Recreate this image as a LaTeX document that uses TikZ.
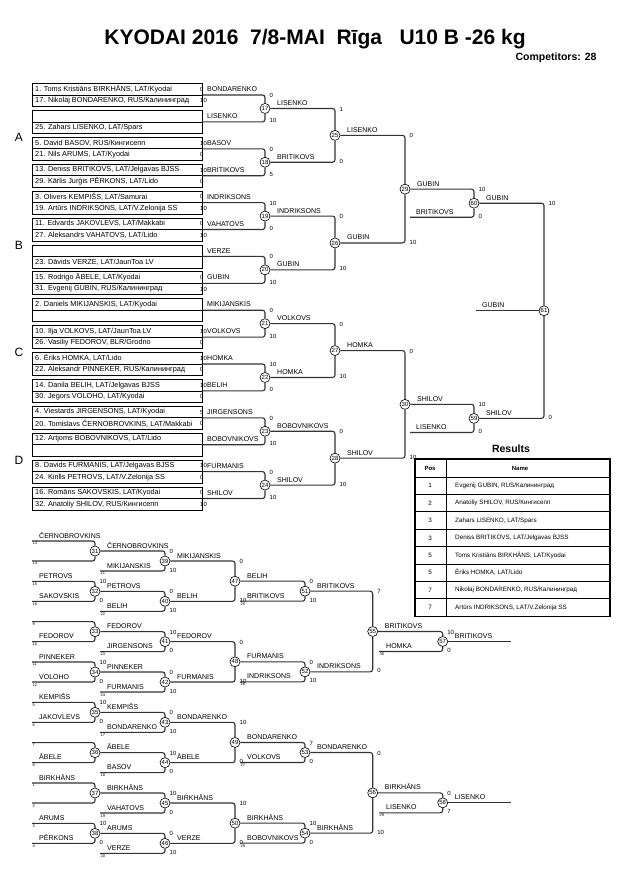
\documentclass[tikz,border=0pt]{standalone}
\usepackage{fontspec}
\setmainfont{Liberation Sans}
\newcommand\kyPair[6]{%
  \pgfmathsetmacro\kyT{83.5+26.9*#1}%
  \draw[boxln] (32,\kyT) rectangle (202,\kyT+23);
  \draw[boxln] (32,\kyT+11.5) -- (202,\kyT+11.5);
  \node[entry] (e#1a) at (35,\kyT+5.75) {#2};
  \node[entry] (e#1b) at (35,\kyT+17.25) {#3};
  \node[sc] (e#1sa) at (200,\kyT+5.75) {#4};
  \node[sc] (e#1sb) at (200,\kyT+17.25) {#5};
  \node[lblc] (e#1w) at (207,\kyT+5.75) {#6};
  \coordinate (q#1) at (202,\kyT+11.5);
}
\newcommand\kyF[8]{%
  \node[fight] (f#1) at (#2,#3) {#1};
  \node[sc] (f#1su) at (#2+4.5,#5+0.5) {#4};
  \node[sc] (f#1sl) at (#2+4.5,#7-1) {#6};
  \node[lbl] (f#1w) at (#2+12,#3-3) {#8};
}
\newcommand\kyArm[5]{%
  \coordinate (#1) at (#2,#3);
  \node[lbl] (#1t) at (#2+7,#3-3) {#4};
  \node[tinyn] (#1n) at (#2+0.5,#3+1) {#5};
}
\begin{document}
\begin{tikzpicture}[x=1pt,y=-1pt,
  entry/.style={font=\fontsize{7.3}{8}\selectfont, anchor=west, inner sep=0pt},
  lbl/.style={font=\fontsize{7}{8}\selectfont, anchor=base west, inner sep=0pt},
  lblc/.style={font=\fontsize{7}{8}\selectfont, anchor=west, inner sep=0pt},
  sc/.style={font=\fontsize{6}{7}\selectfont, anchor=west, inner sep=0pt},
  tinyn/.style={font=\fontsize{4}{4.5}\selectfont, anchor=north west, inner sep=0pt},
  fight/.style={circle, draw=black, line width=0.6pt, fill=white, minimum size=10pt, inner sep=0pt, font=\fontsize{6}{6}\selectfont},
  conn/.style={draw=black!80, line width=1.1pt, rounded corners=2.5pt},
  boxln/.style={draw=black, line width=0.8pt},
  tab/.style={font=\fontsize{6.3}{7}\selectfont, inner sep=0pt},
]
\useasboundingbox (0,0) rectangle (630,891);
\fill[white] (0,0) rectangle (630,891);

% title
\node[font=\bfseries\fontsize{21}{25}\selectfont] (title) at (315,39) {KYODAI 2016\ \ 7/8-MAI\ \ Rīga\ \ \ U10 B -26 kg};
\node[font=\bfseries\fontsize{10.5}{12}\selectfont, anchor=east] (comp) at (600,58) {Competitors: 28};

% group letters
\node[font=\fontsize{12}{14}\selectfont] (gA) at (19,137.5) {A};
\node[font=\fontsize{12}{14}\selectfont] (gB) at (19,245) {B};
\node[font=\fontsize{12}{14}\selectfont] (gC) at (19,352.5) {C};
\node[font=\fontsize{12}{14}\selectfont] (gD) at (19,460) {D};

% first round
\kyPair{0}{1. Toms Kristiāns BIRKHĀNS, LAT/Kyodai}{17. Nikolaj BONDARENKO, RUS/Калининград}{0}{10}{BONDARENKO}
\kyPair{1}{}{25. Zahars LISENKO, LAT/Spars}{}{}{LISENKO}
\kyPair{2}{5. David BASOV, RUS/Кингисепп}{21. Nils ARUMS, LAT/Kyodai}{10}{0}{BASOV}
\kyPair{3}{13. Deniss BRITIKOVS, LAT/Jelgavas BJSS}{29. Kārlis Jurģis PĒRKONS, LAT/Lido}{10}{0}{BRITIKOVS}
\kyPair{4}{3. Olivers KEMPIŠS, LAT/Samurai}{19. Artūrs INDRIKSONS, LAT/V.Zelonija SS}{0}{10}{INDRIKSONS}
\kyPair{5}{11. Edvards JAKOVLEVS, LAT/Makkabi}{27. Aleksandrs VAHATOVS, LAT/Lido}{0}{10}{VAHATOVS}
\kyPair{6}{}{23. Dāvids VERZE, LAT/JaunToa LV}{}{}{VERZE}
\kyPair{7}{15. Rodrigo ĀBELE, LAT/Kyodai}{31. Evgenij GUBIN, RUS/Калининград}{0}{10}{GUBIN}
\kyPair{8}{2. Daniels MIKIJANSKIS, LAT/Kyodai}{}{}{}{MIKIJANSKIS}
\kyPair{9}{10. Ilja VOLKOVS, LAT/JaunToa LV}{26. Vasiliy FEDOROV, BLR/Grodno}{10}{0}{VOLKOVS}
\kyPair{10}{6. Ēriks HOMKA, LAT/Lido}{22. Aleksandr PINNEKER, RUS/Калининград}{10}{0}{HOMKA}
\kyPair{11}{14. Danila BELIH, LAT/Jelgavas BJSS}{30. Jegors VOLOHO, LAT/Kyodai}{10}{0}{BELIH}
\kyPair{12}{4. Viestards JIRGENSONS, LAT/Kyodai}{20. Tomislavs ČERNOBROVKINS, LAT/Makkabi}{5}{0}{JIRGENSONS}
\kyPair{13}{12. Artjoms BOBOVNIKOVS, LAT/Lido}{}{}{}{BOBOVNIKOVS}
\kyPair{14}{8. Davids FURMANIS, LAT/Jelgavas BJSS}{24. Kirills PETROVS, LAT/V.Zelonija SS}{10}{0}{FURMANIS}
\kyPair{15}{16. Romāns SAKOVSKIS, LAT/Kyodai}{32. Anatoliy SHILOV, RUS/Кингисепп}{0}{10}{SHILOV}

% main bracket fights
\kyF{17}{265}{108.45}{0}{95}{10}{121.9}{LISENKO}
\kyF{18}{265}{162.25}{0}{148.8}{5}{175.7}{BRITIKOVS}
\kyF{19}{265}{216.05}{10}{202.6}{0}{229.5}{INDRIKSONS}
\kyF{20}{265}{269.85}{0}{256.4}{10}{283.3}{GUBIN}
\kyF{21}{265}{323.65}{0}{310.2}{10}{337.1}{VOLKOVS}
\kyF{22}{265}{377.45}{10}{364}{0}{390.9}{HOMKA}
\kyF{23}{265}{431.25}{0}{417.8}{10}{444.7}{BOBOVNIKOVS}
\kyF{24}{265}{485.05}{0}{471.6}{10}{498.5}{SHILOV}
\kyF{25}{335}{135.35}{1}{108.45}{0}{162.25}{LISENKO}
\kyF{26}{335}{242.95}{0}{216.05}{10}{269.85}{GUBIN}
\kyF{27}{335}{350.55}{0}{323.65}{10}{377.45}{HOMKA}
\kyF{28}{335}{458.15}{0}{431.25}{10}{485.05}{SHILOV}
\kyF{29}{405}{189.15}{0}{135.35}{10}{242.95}{GUBIN}
\kyF{30}{405}{404.35}{0}{350.55}{10}{458.15}{SHILOV}
\kyF{60}{474}{203.2}{10}{189.15}{0}{217.25}{GUBIN}
\kyF{59}{474}{418.4}{10}{404.35}{0}{432.45}{SHILOV}
\kyF{61}{544}{310.8}{10}{203.2}{0}{418.4}{}
\coordinate (h60) at (410,217.25);
\node[lbl] (h60t) at (416,214.25) {BRITIKOVS};
\coordinate (h59) at (410,432.45);
\node[lbl] (h59t) at (416,429.45) {LISENKO};
\coordinate (g61) at (476,310.8);
\node[lbl] (g61t) at (482,307.8) {GUBIN};

\foreach \a/\b in {q0/f17,q1/f17,q2/f18,q3/f18,q4/f19,q5/f19,q6/f20,q7/f20,
  q8/f21,q9/f21,q10/f22,q11/f22,q12/f23,q13/f23,q14/f24,q15/f24,
  f17/f25,f18/f25,f19/f26,f20/f26,f21/f27,f22/f27,f23/f28,f24/f28,
  f25/f29,f26/f29,f27/f30,f28/f30,f29/f60,h60/f60,f30/f59,h59/f59,
  f60/f61,f59/f61}
  \draw[conn] (\a) -| (\b);
\draw[conn] (g61) -- (f61);

% repechage arms
\kyArm{a31u}{32}{541}{ČERNOBROVKINS}{13}
\kyArm{a31l}{32}{561}{}{14}
\kyArm{a32u}{32}{581.33}{PETROVS}{15}
\kyArm{a32l}{32}{601.33}{SAKOVSKIS}{16}
\kyArm{a33u}{32}{621.67}{}{9}
\kyArm{a33l}{32}{641.67}{FEDOROV}{10}
\kyArm{a34u}{32}{662}{PINNEKER}{11}
\kyArm{a34l}{32}{682}{VOLOHO}{12}
\kyArm{a35u}{32}{702.33}{KEMPIŠS}{5}
\kyArm{a35l}{32}{722.33}{JAKOVLEVS}{6}
\kyArm{a36u}{32}{742.67}{}{7}
\kyArm{a36l}{32}{762.67}{ĀBELE}{8}
\kyArm{a37u}{32}{783}{BIRKHĀNS}{1}
\kyArm{a37l}{32}{803}{}{2}
\kyArm{a38u}{32}{823.33}{ARUMS}{3}
\kyArm{a38l}{32}{843.33}{PĒRKONS}{4}
\kyArm{a39}{100}{571}{MIKIJANSKIS}{21}
\kyArm{a40}{100}{611.33}{BELIH}{22}
\kyArm{a41}{100}{651.67}{JIRGENSONS}{23}
\kyArm{a42}{100}{692}{FURMANIS}{24}
\kyArm{a43}{100}{732.33}{BONDARENKO}{17}
\kyArm{a44}{100}{772.67}{BASOV}{18}
\kyArm{a45}{100}{813}{VAHATOVS}{19}
\kyArm{a46}{100}{853.33}{VERZE}{20}
\kyArm{a51}{240}{601.17}{BRITIKOVS}{25}
\kyArm{a52}{240}{681.83}{INDRIKSONS}{26}
\kyArm{a53}{240}{762.5}{VOLKOVS}{27}
\kyArm{a54}{240}{843.17}{BOBOVNIKOVS}{28}
\kyArm{a57}{379}{651.5}{HOMKA}{30}
\kyArm{a58}{379}{812.83}{LISENKO}{29}

% repechage fights
\kyF{31}{95}{551}{}{541}{}{561}{ČERNOBROVKINS}
\kyF{32}{95}{591.33}{10}{581.33}{0}{601.33}{PETROVS}
\kyF{33}{95}{631.67}{}{621.67}{}{641.67}{FEDOROV}
\kyF{34}{95}{672}{10}{662}{0}{682}{PINNEKER}
\kyF{35}{95}{712.33}{10}{702.33}{0}{722.33}{KEMPIŠS}
\kyF{36}{95}{752.67}{}{742.67}{}{762.67}{ĀBELE}
\kyF{37}{95}{793}{}{783}{}{803}{BIRKHĀNS}
\kyF{38}{95}{833.33}{10}{823.33}{0}{843.33}{ARUMS}
\kyF{39}{165}{561}{0}{551}{10}{571}{MIKIJANSKIS}
\kyF{40}{165}{601.33}{0}{591.33}{10}{611.33}{BELIH}
\kyF{41}{165}{641.67}{10}{631.67}{0}{651.67}{FEDOROV}
\kyF{42}{165}{682}{0}{672}{10}{692}{FURMANIS}
\kyF{43}{165}{722.33}{0}{712.33}{10}{732.33}{BONDARENKO}
\kyF{44}{165}{762.67}{10}{752.67}{0}{772.67}{ĀBELE}
\kyF{45}{165}{803}{10}{793}{0}{813}{BIRKHĀNS}
\kyF{46}{165}{843.33}{0}{833.33}{10}{853.33}{VERZE}
\kyF{47}{235}{581.17}{0}{561}{10}{601.33}{BELIH}
\kyF{48}{235}{661.83}{0}{641.67}{10}{682}{FURMANIS}
\kyF{49}{235}{742.5}{10}{722.33}{0}{762.67}{BONDARENKO}
\kyF{50}{235}{823.17}{10}{803}{0}{843.33}{BIRKHĀNS}
\kyF{51}{305}{591.17}{0}{581.17}{10}{601.17}{BRITIKOVS}
\kyF{52}{305}{671.83}{0}{661.83}{10}{681.83}{INDRIKSONS}
\kyF{53}{305}{752.5}{7}{742.5}{0}{762.5}{BONDARENKO}
\kyF{54}{305}{833.17}{10}{823.17}{0}{843.17}{BIRKHĀNS}
\kyF{55}{372.7}{631.5}{7}{591.17}{0}{671.83}{BRITIKOVS}
\kyF{56}{372.7}{792.83}{0}{752.5}{10}{833.17}{BIRKHĀNS}
\kyF{57}{442.7}{641.5}{10}{631.5}{0}{651.5}{BRITIKOVS}
\kyF{58}{442.7}{802.83}{0}{792.83}{7}{812.83}{LISENKO}
\coordinate (o57) at (511,641.5);
\coordinate (o58) at (511,802.83);

\foreach \a/\b in {a31u/f31,a31l/f31,a32u/f32,a32l/f32,a33u/f33,a33l/f33,a34u/f34,a34l/f34,
  a35u/f35,a35l/f35,a36u/f36,a36l/f36,a37u/f37,a37l/f37,a38u/f38,a38l/f38,
  f31/f39,a39/f39,f32/f40,a40/f40,f33/f41,a41/f41,f34/f42,a42/f42,
  f35/f43,a43/f43,f36/f44,a44/f44,f37/f45,a45/f45,f38/f46,a46/f46,
  f39/f47,f40/f47,f41/f48,f42/f48,f43/f49,f44/f49,f45/f50,f46/f50,
  f47/f51,a51/f51,f48/f52,a52/f52,f49/f53,a53/f53,f50/f54,a54/f54,
  f51/f55,f52/f55,f53/f56,f54/f56,f55/f57,a57/f57,f56/f58,a58/f58}
  \draw[conn] (\a) -| (\b);
\draw[conn] (f57) -- (o57);
\draw[conn] (f58) -- (o58);

% results table
\node[font=\bfseries\fontsize{10.5}{12}\selectfont] (restitle) at (511,449) {Results};
\draw[line width=0.8pt] (415,477) -- (610,477);
\foreach \i in {1,...,7} \draw[line width=0.8pt] (415,477+17.4*\i) -- (610,477+17.4*\i);
\draw[line width=0.8pt] (446,459) -- (446,616.2);
\draw[line width=1.3pt] (415,459) rectangle (610,616.2);
\node[tab, font=\bfseries\fontsize{6}{7}\selectfont] (hpos) at (430,468) {Pos};
\node[tab, font=\bfseries\fontsize{6}{7}\selectfont] (hname) at (520,468) {Name};
\foreach \i/\p/\n in {0/1/{Evgenij GUBIN, RUS/Калининград},
  1/2/{Anatoliy SHILOV, RUS/Кингисепп},
  2/3/{Zahars LISENKO, LAT/Spars},
  3/3/{Deniss BRITIKOVS, LAT/Jelgavas BJSS},
  4/5/{Toms Kristiāns BIRKHĀNS, LAT/Kyodai},
  5/5/{Ēriks HOMKA, LAT/Lido},
  6/7/{Nikolaj BONDARENKO, RUS/Калининград},
  7/7/{Artūrs INDRIKSONS, LAT/V.Zelonija SS}}
{
  \node[tab] (rp\i) at (430,485.7+17.4*\i) {\p};
  \node[tab, anchor=west] (rn\i) at (455,485.7+17.4*\i) {\n};
}
\end{tikzpicture}
\end{document}
